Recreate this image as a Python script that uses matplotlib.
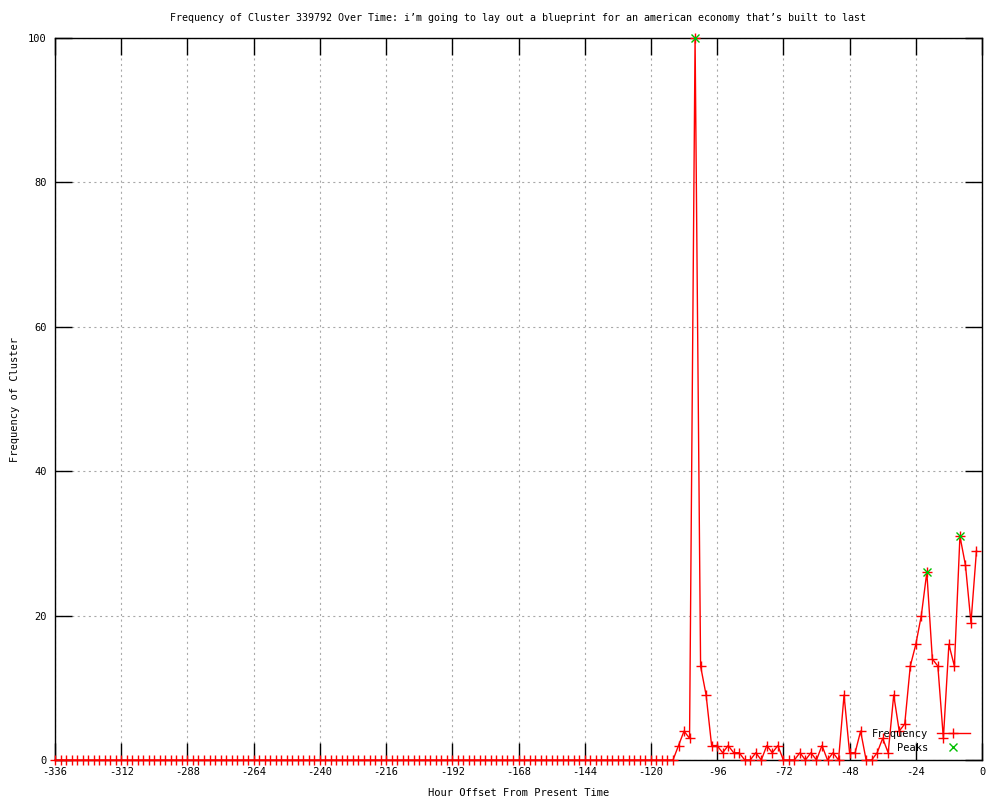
import numpy as np
import matplotlib
matplotlib.use("Agg")
import matplotlib.pyplot as plt

plt.rcParams['font.family'] = ['DejaVu Sans Mono', 'DejaVu Sans']
plt.rcParams['axes.unicode_minus'] = False
plt.rcParams['lines.scale_dashes'] = False

# Hour offsets (2-hour bins)
hours = np.arange(-336, 0, 2)

# Frequency per bin
freq_quiet = [
    0, 0, 0, 0, 0, 0, 0, 0, 0, 0, 0, 0, 0, 0, 0, 0, 0, 0, 0, 0,
    0, 0, 0, 0, 0, 0, 0, 0, 0, 0, 0, 0, 0, 0, 0, 0, 0, 0, 0, 0,
    0, 0, 0, 0, 0, 0, 0, 0, 0, 0, 0, 0, 0, 0, 0, 0, 0, 0, 0, 0,
    0, 0, 0, 0, 0, 0, 0, 0, 0, 0, 0, 0, 0, 0, 0, 0, 0, 0, 0, 0,
    0, 0, 0, 0, 0, 0, 0, 0, 0, 0, 0, 0, 0, 0, 0, 0, 0, 0, 0, 0,
    0, 0, 0, 0, 0, 0, 0, 0, 0, 0, 0, 0, 0,
]
freq_active = [
    2, 4, 3, 100, 13, 9, 2, 2, 1, 2,
    1, 1, 0, 0, 1, 0, 2, 1, 2, 0,
    0, 0, 1, 0, 1, 0, 2, 0, 1, 0,
    9, 1, 1, 4, 0, 0, 1, 3, 1, 9,
    4, 5, 13, 16, 20, 26, 14, 13, 3, 16,
    13, 31, 27, 19, 29,
]
frequency = np.array(freq_quiet + freq_active)

# Detected peaks
peak_hours = [-104, -20, -8]
peak_values = [100, 26, 31]

x_ticks = list(range(-336, 1, 24))
y_ticks = [0, 20, 40, 60, 80, 100]

title = ("Frequency of Cluster 339792 Over Time: i\u2019m going to lay out a "
         "blueprint for an american economy that\u2019s built to last")

fig = plt.figure(figsize=(10, 8), dpi=100)
ax = fig.add_axes([0.055, 0.05, 0.927, 0.9025])

red = '#ff0000'
green = '#00c000'

ax.plot(hours, frequency, color=red, lw=1.0, marker='+', ms=6.5, mew=1.0,
        clip_on=False, zorder=3, label='Frequency')
ax.plot(peak_hours, peak_values, linestyle='none', marker='x', color=green,
        ms=5.5, mew=1.0, clip_on=False, zorder=4, label='Peaks')

ax.set_xlim(-336, 0)
ax.set_ylim(0, 100)
ax.set_xticks(x_ticks)
ax.set_xticklabels([str(v) for v in x_ticks])
ax.set_yticks(y_ticks)
ax.set_yticklabels([str(v) for v in y_ticks])

fs = 7.5
ax.tick_params(axis='both', which='major', direction='in', length=12,
               width=1, color='black', labelsize=fs, top=True, right=True)
ax.tick_params(axis='x', pad=5)
ax.tick_params(axis='y', pad=6)

for s in ax.spines.values():
    s.set_linewidth(1.0)
    s.set_color('black')

ax.grid(True, color='#a8a8a8', linewidth=0.8, linestyle=(0, (1.5, 2.5)))
ax.set_axisbelow(True)

ax.set_title(title, fontsize=7.2, pad=12)
ax.set_xlabel('Hour Offset From Present Time', fontsize=fs, labelpad=8)
ax.set_ylabel('Frequency of Cluster', fontsize=fs, labelpad=6)

leg = ax.legend(loc='lower right', bbox_to_anchor=(0.987, 0.01),
                frameon=False, markerfirst=False, fontsize=fs,
                handlelength=3.2, handletextpad=0.8, labelspacing=0.35,
                borderpad=0, borderaxespad=0, numpoints=1)

fig.savefig('out.png', dpi=100)
